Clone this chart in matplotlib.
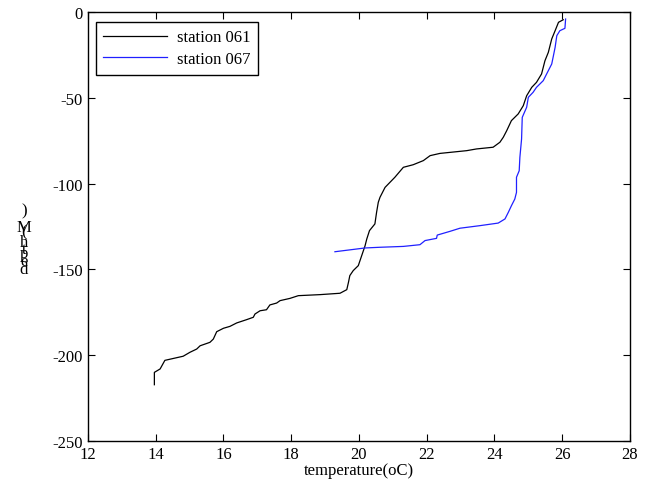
import matplotlib
matplotlib.use("Agg")
import matplotlib.pyplot as plt

# station 061 (temperature, depth)
t061 = [13.96, 13.96, 14.13, 14.27, 14.81, 15.01, 15.21, 15.31, 15.60, 15.70, 15.80,
        16.00, 16.19, 16.39, 16.68, 16.88, 16.93, 17.08, 17.27, 17.37, 17.57, 17.67,
        17.96, 18.21, 18.85, 19.44, 19.64, 19.69, 19.73, 19.83, 19.98, 20.08, 20.18,
        20.23, 20.31, 20.47, 20.52, 20.57, 20.62, 20.77, 21.06, 21.31, 21.60, 21.90,
        22.10, 22.39, 23.18, 23.47, 23.96, 24.16, 24.26, 24.36, 24.50, 24.70, 24.85,
        24.95, 25.10, 25.24, 25.39, 25.49, 25.59, 25.69, 25.79, 25.89, 26.03]
d061 = [-217.2, -210.0, -208.0, -203.0, -200.6, -198.3, -196.4, -194.5, -192.5, -190.6,
        -186.3, -184.3, -183.2, -181.2, -179.3, -177.9, -176.0, -174.1, -173.5, -170.7,
        -169.6, -168.2, -166.9, -165.3, -164.7, -163.9, -161.8, -157.5, -153.6, -150.7,
        -147.8, -142.0, -136.2, -132.3, -127.4, -123.5, -116.7, -110.9, -108.0, -102.2,
        -96.3, -90.5, -89.0, -86.6, -83.7, -82.4, -80.8, -79.8, -78.8, -75.9, -73.0,
        -69.2, -63.3, -59.4, -54.6, -48.8, -43.9, -41.0, -36.1, -28.4, -23.5, -15.7,
        -10.9, -6.0, -4.5]

# station 067 (temperature, depth)
t067 = [19.29, 20.18, 20.62, 21.31, 21.80, 21.95, 22.29, 22.31, 22.69, 22.98, 23.57,
        24.11, 24.31, 24.41, 24.50, 24.60, 24.65, 24.65, 24.73, 24.75, 24.80, 24.82,
        24.95, 25.00, 25.14, 25.24, 25.44, 25.54, 25.69, 25.74, 25.79, 25.84, 25.93,
        26.08, 26.10]
d067 = [-139.7, -137.5, -137.1, -136.6, -135.6, -133.2, -131.9, -130.0, -127.8, -126.0,
        -124.5, -123.0, -120.6, -116.7, -112.9, -109.0, -105.1, -96.3, -92.5, -84.7,
        -74.0, -61.4, -55.5, -49.7, -46.8, -43.9, -40.0, -36.1, -30.3, -25.5, -20.6,
        -13.8, -10.9, -9.5, -4.1]

xticks = [12, 14, 16, 18, 20, 22, 24, 26, 28]
yticks = [-250, -200, -150, -100, -50, 0]

plt.rcParams["font.family"] = ["Liberation Serif", "DejaVu Serif"]
plt.rcParams["font.size"] = 12
plt.rcParams["axes.unicode_minus"] = False

fig = plt.figure(figsize=(6.45, 4.89), dpi=100)
ax = fig.add_axes([0.1364, 0.0961, 0.8403, 0.8773])

ax.plot(t061, d061, color="black", linewidth=0.9, label="station 061")
ax.plot(t067, d067, color="#2020ff", linewidth=0.9, label="station 067")

ax.set_xlim(12, 28)
ax.set_ylim(-250, 0)
ax.set_xticks(xticks)
ax.set_yticks(yticks)
ax.tick_params(direction="in", top=True, right=True, length=5, width=0.8)
for sp in ax.spines.values():
    sp.set_linewidth(1.0)

ax.set_xlabel("temperature(oC)", labelpad=0)

# y label drawn as upright stacked characters
ylab = [("d", 270), ("e", 262), ("p", 254), ("t", 250), ("h", 243), ("(", 232),
        ("M", 228), (")", 211)]
for ch, py in ylab:
    fig.text(24 / 645, 1 - py / 489, ch, ha="center", va="center", fontsize=12)

leg = ax.legend(loc="upper left", fancybox=False, framealpha=1, edgecolor="black",
                handlelength=3.8, handletextpad=0.6, borderpad=0.45, labelspacing=0.35,
                borderaxespad=0, bbox_to_anchor=(0.0148, 0.977))
leg.get_frame().set_linewidth(1.0)

fig.savefig("out.png", dpi=100, facecolor="white")
